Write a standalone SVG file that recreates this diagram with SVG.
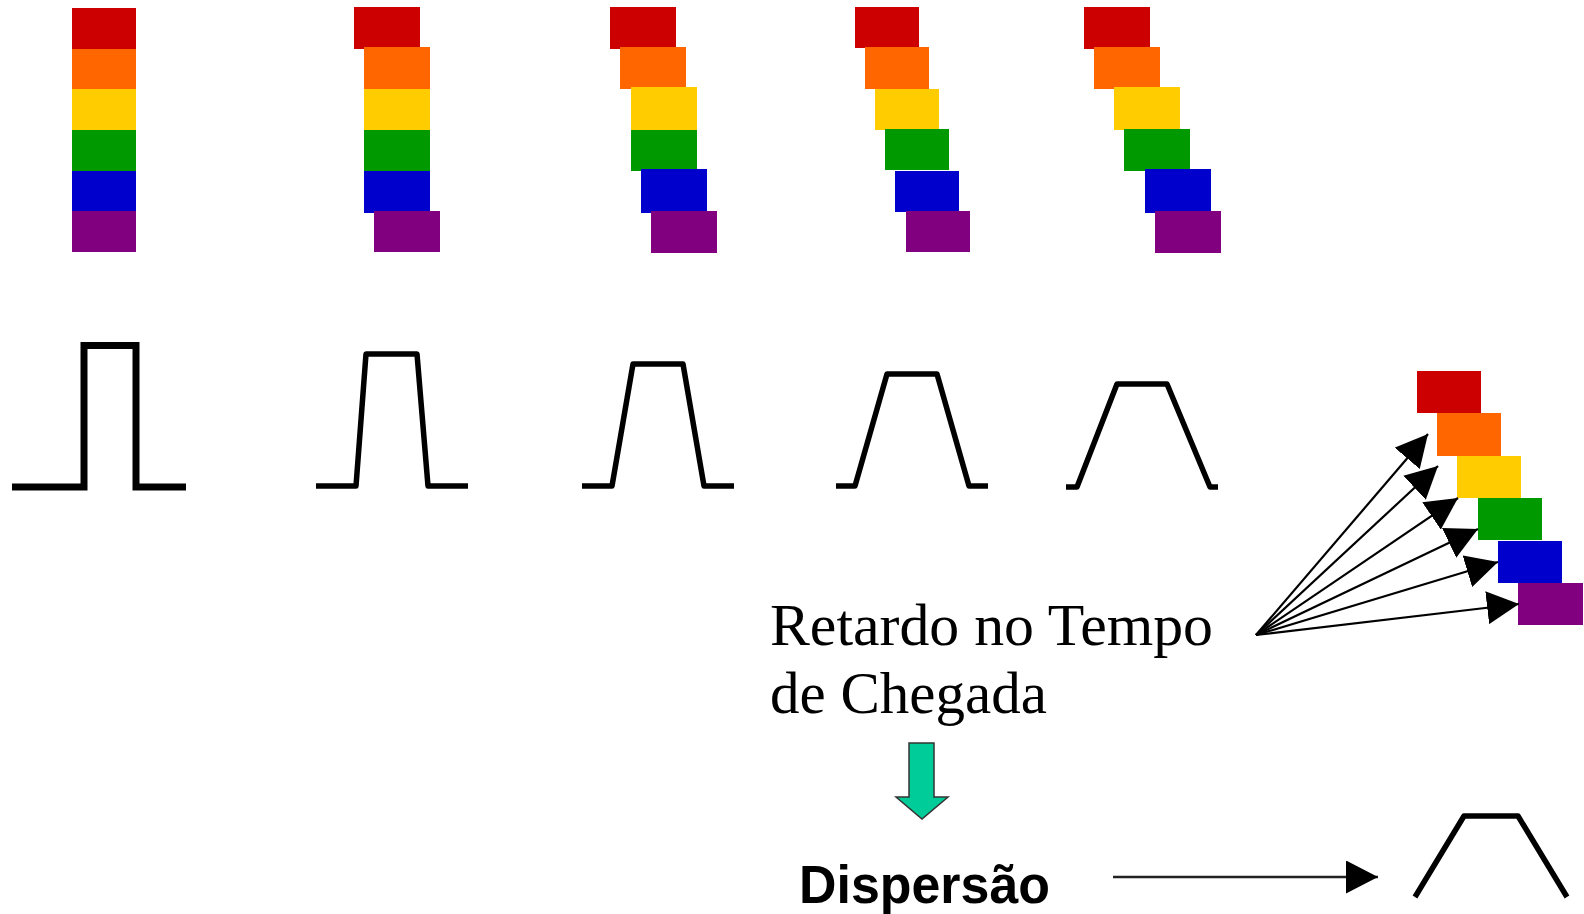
<svg xmlns="http://www.w3.org/2000/svg" width="1584" height="914" viewBox="0 0 1584 914">
<style>
.r{fill:#CC0000}.o{fill:#FF6600}.y{fill:#FFCC00}.g{fill:#009900}.b{fill:#0000CC}.p{fill:#800080}
.pulse{fill:none;stroke:#000;stroke-width:5.5;stroke-linejoin:round}
.fan{fill:none;stroke:#000;stroke-width:2.2;marker-end:url(#ah)}
.serif{font-family:"Liberation Serif","Times New Roman",serif;font-size:59px;fill:#000}
.bold{font-family:"Liberation Sans",Arial,sans-serif;font-weight:bold;font-size:54px;fill:#000}
</style>
<defs>
<marker id="ah" markerUnits="userSpaceOnUse" markerWidth="33" markerHeight="33" refX="32" refY="16.5" orient="auto">
<path d="M0,0 L32,16.5 L0,33 Z" fill="#000"/>
</marker>
</defs>
<rect width="1584" height="914" fill="#fff"/>

<g id="stack1">
<rect class="r" x="72" y="8" width="64" height="41"/>
<rect class="o" x="72" y="49" width="64" height="41"/>
<rect class="y" x="72" y="89" width="64" height="41"/>
<rect class="g" x="72" y="130" width="64" height="41"/>
<rect class="b" x="72" y="171" width="64" height="41"/>
<rect class="p" x="72" y="211" width="64" height="41"/>
</g>
<g id="stack2">
<rect class="r" x="354" y="7" width="66" height="42"/>
<rect class="o" x="364" y="47" width="66" height="42"/>
<rect class="y" x="364" y="89" width="66" height="41"/>
<rect class="g" x="364" y="130" width="66" height="41"/>
<rect class="b" x="364" y="171" width="66" height="42"/>
<rect class="p" x="374" y="211" width="66" height="41"/>
</g>
<g id="stack3">
<rect class="r" x="610" y="7" width="66" height="42"/>
<rect class="o" x="620" y="47" width="66" height="42"/>
<rect class="y" x="631" y="87" width="66" height="43"/>
<rect class="g" x="631" y="130" width="66" height="41"/>
<rect class="b" x="641" y="169" width="66" height="44"/>
<rect class="p" x="651" y="211" width="66" height="42"/>
</g>
<g id="stack4">
<rect class="r" x="855" y="7" width="64" height="41"/>
<rect class="o" x="865" y="47" width="64" height="42"/>
<rect class="y" x="875" y="89" width="64" height="41"/>
<rect class="g" x="885" y="129" width="64" height="41"/>
<rect class="b" x="895" y="171" width="64" height="41"/>
<rect class="p" x="906" y="211" width="64" height="41"/>
</g>
<g id="stack5">
<rect class="r" x="1084" y="7" width="66" height="42"/>
<rect class="o" x="1094" y="47" width="66" height="42"/>
<rect class="y" x="1114" y="87" width="66" height="43"/>
<rect class="g" x="1124" y="129" width="66" height="42"/>
<rect class="b" x="1145" y="169" width="66" height="44"/>
<rect class="p" x="1155" y="211" width="66" height="42"/>
</g>

<g id="pulse1"><path d="M12,487 H84 V345.5 H136 V487 H186" fill="none" stroke="#000" stroke-width="7" stroke-linejoin="miter"/></g>
<g id="pulse2"><path class="pulse" d="M316,486 H356 L366,354 H417 L428,486 H468"/></g>
<g id="pulse3"><path class="pulse" d="M582,486 H612 L633,364 H683 L704,486 H734"/></g>
<g id="pulse4"><path class="pulse" d="M836,486 H855 L887,374 H937 L969,486 H988"/></g>
<g id="pulse5"><path class="pulse" d="M1066,487 H1077 L1117,384 H1167 L1210,487 H1218"/></g>

<g id="arrival">
<rect class="r" x="1417" y="371" width="64" height="42"/>
<rect class="o" x="1437" y="413" width="64" height="43"/>
<rect class="y" x="1457" y="456" width="64" height="42"/>
<rect class="g" x="1478" y="498" width="64" height="42"/>
<rect class="b" x="1498" y="541" width="64" height="42"/>
<rect class="p" x="1518" y="583" width="65" height="42"/>
</g>

<g id="label-retardo">
<text class="serif" x="770" y="645" textLength="443" lengthAdjust="spacingAndGlyphs">Retardo no Tempo</text>
<text class="serif" x="770" y="713">de Chegada</text>
</g>

<g id="green-arrow"><path d="M909,743 H934 V797 H948 L922,819 L896,797 H909 Z" fill="#00CC99" stroke="#333" stroke-width="1.5" stroke-linejoin="miter"/></g>

<g id="label-dispersao"><text class="bold" x="799" y="903" textLength="251" lengthAdjust="spacingAndGlyphs">Dispersão</text></g>

<g id="pulse-final"><path d="M1415,897 L1464,816 H1518 L1567,897" fill="none" stroke="#000" stroke-width="5.5" stroke-linejoin="round"/></g>

<g id="connectors">
<line class="fan" x1="1256" y1="635" x2="1428" y2="434"/>
<line class="fan" x1="1256" y1="635" x2="1438" y2="466"/>
<line class="fan" x1="1256" y1="635" x2="1458" y2="498"/>
<line class="fan" x1="1256" y1="635" x2="1478" y2="529"/>
<line class="fan" x1="1256" y1="635" x2="1498" y2="562"/>
<line class="fan" x1="1256" y1="635" x2="1519" y2="604"/>
<line x1="1113" y1="877" x2="1378" y2="877" stroke="#222" stroke-width="2.5" marker-end="url(#ah)"/>
</g>
</svg>
